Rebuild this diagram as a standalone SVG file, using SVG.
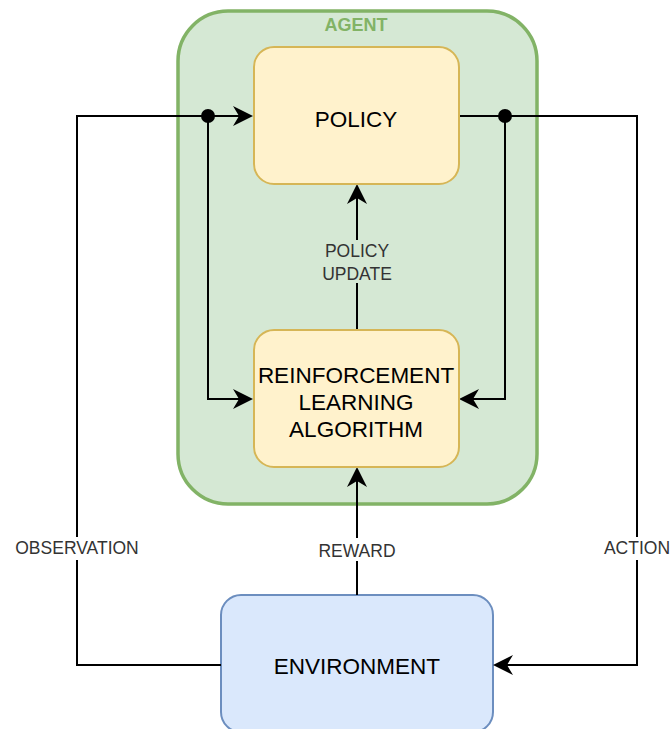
<svg xmlns="http://www.w3.org/2000/svg" width="672" height="729" viewBox="0 0 672 729">
<style>
.node text{font-family:"Liberation Sans",Arial,sans-serif;font-size:22.5px;fill:#000;text-anchor:middle}
.lbl{font-family:"Liberation Sans",Arial,sans-serif;font-size:17.5px;fill:#333;text-anchor:middle}
.conn{fill:none;stroke:#000;stroke-width:2}
.yellow{fill:#fff2cc;stroke:#d6b656;stroke-width:2}
</style>
<defs>
<marker id="arr" markerUnits="userSpaceOnUse" markerWidth="20" markerHeight="20" refX="10" refY="10" orient="auto" viewBox="0 0 20 20">
<path d="M20,10 L0,0 L6,10 L0,20 Z" fill="#000"/>
</marker>
</defs>
<rect width="672" height="729" fill="#fff"/>
<g id="agent">
<rect x="178" y="11" width="359" height="493" rx="50" fill="#d5e8d4" stroke="#82b366" stroke-width="3.5"/>
<text x="356" y="31" font-family="Liberation Sans,Arial,sans-serif" font-size="18" font-weight="bold" fill="#82b366" text-anchor="middle">AGENT</text>
</g>
<g id="environment" class="node">
<rect x="221" y="595" width="272" height="137" rx="20" fill="#dae8fc" stroke="#6c8ebf" stroke-width="2"/>
<text x="357" y="674">ENVIRONMENT</text>
</g>
<g id="connectors">
<path class="conn" d="M221,665 H77 V116 H243" marker-end="url(#arr)"/>
<path class="conn" d="M208,116 V399 H243" marker-end="url(#arr)"/>
<path class="conn" d="M459,116 H637 V665 H503" marker-end="url(#arr)"/>
<path class="conn" d="M505,116 V399 H469" marker-end="url(#arr)"/>
<path class="conn" d="M357,330 V194" marker-end="url(#arr)"/>
<path class="conn" d="M357,595 V477" marker-end="url(#arr)"/>
<circle cx="208" cy="116" r="7" fill="#000"/>
<circle cx="505" cy="116" r="7" fill="#000"/>
<rect x="318" y="240" width="78" height="43" fill="#d5e8d4"/>
<text class="lbl" x="357" y="257">POLICY</text>
<text class="lbl" x="357" y="279.5">UPDATE</text>
<rect x="10" y="537" width="134" height="23" fill="#fff"/>
<text class="lbl" x="77" y="554">OBSERVATION</text>
<rect x="314" y="538" width="86" height="23" fill="#fff"/>
<text class="lbl" x="357" y="556.5">REWARD</text>
<rect x="601" y="537" width="71" height="23" fill="#fff"/>
<text class="lbl" x="637" y="554">ACTION</text>
</g>
<g id="policy" class="node">
<rect class="yellow" x="254" y="47" width="205" height="137" rx="20"/>
<text x="356" y="127">POLICY</text>
</g>
<g id="rl" class="node">
<rect class="yellow" x="254" y="330" width="205" height="137" rx="20"/>
<text x="356" y="382.5">REINFORCEMENT</text>
<text x="356" y="410">LEARNING</text>
<text x="356" y="437">ALGORITHM</text>
</g>
</svg>
